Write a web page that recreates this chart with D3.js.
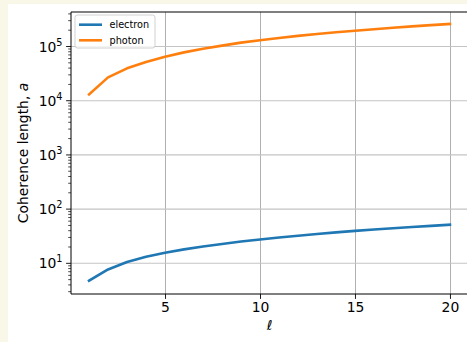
<!DOCTYPE html>
<html>
<head>
<meta charset="utf-8">
<script src="https://cdn.jsdelivr.net/npm/d3@7"></script>
<style>
  html, body { margin: 0; padding: 0; background: #f9f8e8; }
  svg { display: block; }
  text { font-family: "DejaVu Sans", sans-serif; fill: #000; }
</style>
</head>
<body>
<svg id="chart" width="467" height="342"></svg>
<script>
// Angular momentum index
const ell = [1, 2, 3, 4, 5, 6, 7, 8, 9, 10, 11, 12, 13, 14, 15, 16, 17, 18, 19, 20];
// Coherence length per particle type
const electron = [4.8, 7.7, 10.6, 13.2, 15.7, 18.1, 20.4, 22.7, 25.2, 27.6,
                  30.0, 32.3, 34.7, 37.2, 39.7, 42.0, 44.4, 46.8, 49.1, 51.5];
const photon = [13100, 27000, 39600, 52000, 65000, 78000, 91000, 104000, 118000, 131000,
                144000, 157000, 170000, 183000, 196000, 209000, 222000, 235000, 248000, 261000];
const seriesNames = ["electron", "photon"];
const seriesColors = ["#1f77b4", "#ff7f0e"];
const xTicks = [5, 10, 15, 20];
const yTickExps = [1, 2, 3, 4, 5];

(function () {
const svg = d3.select("#chart");
// white figure panel
svg.append("rect").attr("x", 8).attr("y", 4).attr("width", 459).attr("height", 338).attr("fill", "#fff");

const mLeft = 71, mRight = 468, mTop = 12, mBottom = 294;
const x = d3.scaleLinear().domain([0.05, 20.95]).range([mLeft, mRight]);
const y = d3.scaleLog().domain([Math.pow(10, 0.434), Math.pow(10, 5.637)]).range([mBottom, mTop]);

const g = svg.append("g");

// grid
g.selectAll(".vgrid").data(xTicks).join("line")
  .attr("x1", d => Math.round(x(d)) + 0.5).attr("x2", d => Math.round(x(d)) + 0.5)
  .attr("y1", mTop).attr("y2", mBottom)
  .attr("stroke", "#b0b0b0").attr("stroke-width", 1);
g.selectAll(".hgrid").data(yTickExps).join("line")
  .attr("x1", mLeft).attr("x2", mRight)
  .attr("y1", d => y(Math.pow(10, d))).attr("y2", d => y(Math.pow(10, d)))
  .attr("stroke", "#c4c4c4").attr("stroke-width", 1.1);

// series lines
const line = d3.line().x((d, i) => x(ell[i])).y(d => y(d));
[electron, photon].forEach((vals, k) => {
  g.append("path").datum(vals).attr("d", line)
    .attr("fill", "none").attr("stroke", seriesColors[k])
    .attr("stroke-width", 2.6).attr("stroke-linejoin", "round").attr("stroke-linecap", "square");
});

// x axis
const xAxis = d3.axisBottom(x).tickValues(xTicks).tickSize(4.9).tickPadding(3.5).tickFormat(d3.format("d"));
const gx = svg.append("g").attr("transform", `translate(0,${mBottom})`).call(xAxis);
gx.select(".domain").remove();
gx.selectAll("line").attr("stroke", "#000").attr("stroke-width", 0.9);
gx.selectAll("text").attr("font-size", 13.9).attr("font-family", "DejaVu Sans");

// y axis: major ticks with power labels
const gy = svg.append("g").attr("transform", `translate(${mLeft},0)`);
const minor = [];
for (let e = 0; e <= 5; e++) for (let m = 2; m <= 9; m++) {
  const v = m * Math.pow(10, e);
  if (v >= y.domain()[0] && v <= y.domain()[1]) minor.push(v);
}
gy.selectAll(".minor").data(minor).join("line")
  .attr("x1", 0).attr("x2", -2.8).attr("y1", d => y(d)).attr("y2", d => y(d))
  .attr("stroke", "#000").attr("stroke-width", 0.7);
gy.selectAll(".major").data(yTickExps).join("line")
  .attr("x1", 0).attr("x2", -4.9).attr("y1", d => y(Math.pow(10, d))).attr("y2", d => y(Math.pow(10, d)))
  .attr("stroke", "#000").attr("stroke-width", 0.9);
const yl = gy.selectAll(".ylab").data(yTickExps).join("text")
  .attr("x", -8.5).attr("y", d => y(Math.pow(10, d)) + 5)
  .attr("text-anchor", "end").attr("font-size", 13.9);
yl.append("tspan").text("10");
yl.append("tspan").attr("dy", -6).attr("font-size", 9.7).text(d => d);

// spines
svg.append("line").attr("x1", mLeft).attr("x2", mLeft).attr("y1", mTop).attr("y2", mBottom)
  .attr("stroke", "#000").attr("stroke-width", 1);
svg.append("line").attr("x1", mLeft).attr("x2", mRight).attr("y1", mBottom).attr("y2", mBottom)
  .attr("stroke", "#000").attr("stroke-width", 1);
svg.append("line").attr("x1", mLeft).attr("x2", mRight).attr("y1", mTop).attr("y2", mTop)
  .attr("stroke", "#000").attr("stroke-width", 1);

// axis labels
svg.append("text").attr("x", (mLeft + mRight) / 2).attr("y", 330)
  .attr("text-anchor", "middle").attr("font-size", 13.9).attr("font-style", "italic").text("ℓ");
const ylab = svg.append("text").attr("transform", `translate(28,${(mTop + mBottom) / 2}) rotate(-90)`)
  .attr("text-anchor", "middle").attr("font-size", 13.9);
ylab.append("tspan").text("Coherence length, ");
ylab.append("tspan").attr("font-style", "italic").text("a");

// legend
const lg = svg.append("g").attr("transform", "translate(75,15)");
lg.append("rect").attr("width", 80).attr("height", 33).attr("rx", 2.5)
  .attr("fill", "#fff").attr("fill-opacity", 0.8).attr("stroke", "#cccccc").attr("stroke-width", 0.9);
seriesNames.forEach((name, k) => {
  const yy = 9.7 + k * 15.6;
  lg.append("line").attr("x1", 4).attr("x2", 27).attr("y1", yy).attr("y2", yy)
    .attr("stroke", seriesColors[k]).attr("stroke-width", 2.6);
  lg.append("text").attr("x", 34.5).attr("y", yy + 3.5).attr("font-size", 9.7).text(name);
});
})();
</script>
</body>
</html>
